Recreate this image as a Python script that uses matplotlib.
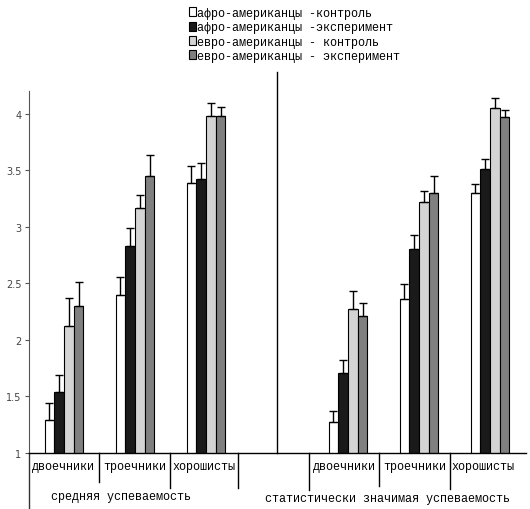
import numpy as np
import matplotlib
matplotlib.use("Agg")
import matplotlib.pyplot as plt
from matplotlib.patches import Patch

# ---- data ----
categories = ['двоечники', 'троечники', 'хорошисты', '', 'двоечники', 'троечники', 'хорошисты']
groups = ['средняя успеваемость', 'статистически значимая успеваемость']
series_names = ['афро-американцы -контроль', 'афро-американцы -эксперимент',
                'евро-американцы - контроль', 'евро-американцы - эксперимент']
afro_ctrl = [1.29, 2.40, 3.39, np.nan, 1.27, 2.36, 3.30]
afro_exp = [1.54, 2.83, 3.42, np.nan, 1.71, 2.80, 3.51]
euro_ctrl = [2.12, 3.17, 3.98, np.nan, 2.27, 3.22, 4.05]
euro_exp = [2.30, 3.45, 3.98, np.nan, 2.21, 3.30, 3.97]
afro_ctrl_err = [0.15, 0.16, 0.15, np.nan, 0.10, 0.13, 0.08]
afro_exp_err = [0.15, 0.16, 0.14, np.nan, 0.11, 0.13, 0.09]
euro_ctrl_err = [0.25, 0.11, 0.11, np.nan, 0.16, 0.10, 0.09]
euro_exp_err = [0.21, 0.18, 0.08, np.nan, 0.12, 0.15, 0.06]
yticks = [1, 1.5, 2, 2.5, 3, 3.5, 4]
ytick_labels = ['1', '1.5', '2', '2.5', '3', '3.5', '4']

series = [afro_ctrl, afro_exp, euro_ctrl, euro_exp]
errors = [afro_ctrl_err, afro_exp_err, euro_ctrl_err, euro_exp_err]
colors = ['#ffffff', '#1a1a1a', '#d4d4d4', '#808080']

MONO = 'Liberation Mono'
W, H = 530, 510
fig = plt.figure(figsize=(W / 100, H / 100), dpi=100)
ax_l, ax_b, ax_w, ax_h = 28.5, 56, 497, 362
ax = fig.add_axes([ax_l / W, ax_b / H, ax_w / W, ax_h / H])

x = np.arange(len(categories))
bw = 0.137
for i, (vals, errs, c) in enumerate(zip(series, errors, colors)):
    v = np.array(vals, dtype=float)
    e = np.array(errs, dtype=float)
    m = ~np.isnan(v)
    xs = x[m] + (i - 1.5) * bw
    ax.bar(xs, v[m], width=bw, color=c, edgecolor='black', linewidth=0.8, zorder=2)
    ax.errorbar(xs, v[m], yerr=[np.zeros(m.sum()), e[m]], fmt='none',
                ecolor='black', elinewidth=1.0, capsize=3, capthick=1.0, zorder=3)

ax.set_xlim(-0.5, len(categories) - 0.5)
ax.set_ylim(1, 4.2)
ax.set_yticks(yticks)
ax.set_yticklabels(ytick_labels, fontsize=7, color='#444444')
ax.tick_params(axis='y', length=3, width=0.8, color='#555555', pad=2)
ax.set_xticks([])
for s in ['top', 'right']:
    ax.spines[s].set_visible(False)
ax.spines['left'].set_color('#555555')
ax.spines['bottom'].set_color('black')
ax.spines['bottom'].set_linewidth(1.0)

xt = ax.get_xaxis_transform()
def px2ax(p):
    return -p / ax_h

# left spine extension down to bottom of figure
ax.plot([-0.5, -0.5], [0, px2ax(57)], transform=xt, color='#333333', lw=1, clip_on=False)
# dividers below axis
dividers = [0.49, 1.49, 2.45, 3.45, 4.44, 5.43]
div_len = [29, 35, 35, 37, 33, 36]
for d, L in zip(dividers, div_len):
    ax.plot([d, d], [0, px2ax(L)], transform=xt, color='black', lw=1, clip_on=False)
# central separator
ax.plot([3.0, 3.0], [1, 4.37], color='black', lw=1, clip_on=False)

# category labels between dividers
edges = [-0.5] + dividers + [6.37]
for i, cat in enumerate(categories):
    if not cat:
        continue
    cx = (edges[i] + edges[i + 1]) / 2
    ax.text(cx, px2ax(13), cat, transform=xt, ha='center', va='center',
            fontsize=8.5, family=MONO)

# group labels
ax.text(51 / W, 1 - 497 / H, groups[0], transform=fig.transFigure, ha='left', va='center',
        fontsize=8.5, family=MONO)
ax.text(265 / W, 1 - 499 / H, groups[1], transform=fig.transFigure, ha='left', va='center',
        fontsize=8.5, family=MONO)

handles = [Patch(facecolor=c, edgecolor='black', linewidth=0.8) for c in colors]
fig.legend(handles, series_names, loc='upper left', bbox_to_anchor=(189 / W, 1 - 8 / H),
           bbox_transform=fig.transFigure, frameon=False, borderpad=0,
           handlelength=0.6, handleheight=0.8, handletextpad=0.1, labelspacing=0.2,
           borderaxespad=0,
           prop={'family': MONO, 'size': 8.5})

fig.savefig('out.png', dpi=100)
